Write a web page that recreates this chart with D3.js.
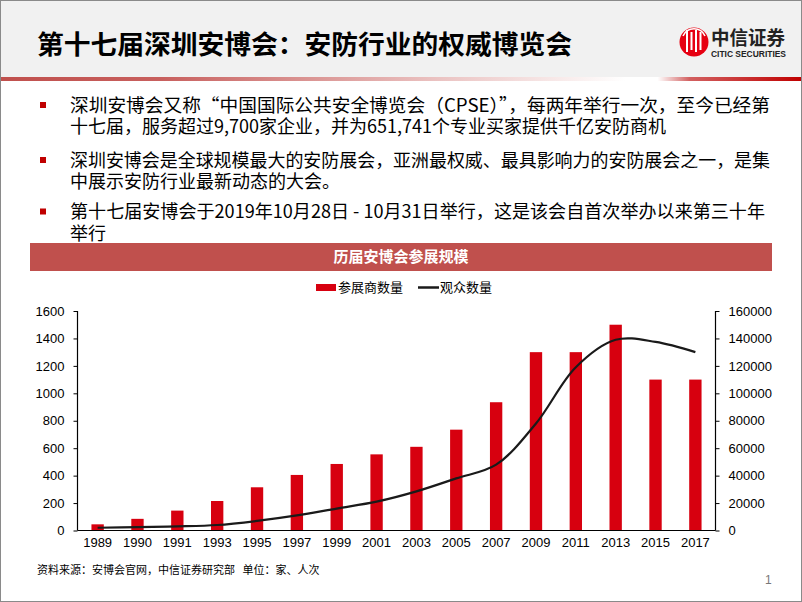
<!DOCTYPE html>
<html><head><meta charset="utf-8">
<script src="https://cdn.jsdelivr.net/npm/d3@7/dist/d3.min.js"></script>
<style>
html,body{margin:0;padding:0;background:#fff;}
svg{display:block;}
text{font-family:"Noto Sans CJK SC","Liberation Sans",sans-serif;}
.num{font-family:"Liberation Sans",Arial,sans-serif;}
</style></head>
<body>
<svg id="c" width="802" height="602"></svg>
<script>
const years = ["1989","1990","1991","1993","1995","1997","1999","2001","2003","2005","2007","2009","2011","2013","2015","2017"];
const exhibitors = [45,85,145,215,315,405,485,555,610,735,935,1300,1300,1500,1100,1100];
const visitors = [2000,2500,3000,4000,7000,11000,16000,21000,28500,38000,48000,78000,119000,139000,137500,130000];
const leftTicks = [0,200,400,600,800,1000,1200,1400,1600];
const rightTicks = [0,20000,40000,60000,80000,100000,120000,140000,160000];
const titleText = "第十七届深圳安博会：安防行业的权威博览会";
const chartTitle = "历届安博会参展规模";
const legendLabels = ["参展商数量","观众数量"];
const bullets = [
  ["深圳安博会又称“中国国际公共安全博览会（CPSE）”，每两年举行一次，至今已经第","十七届，服务超过9,700家企业，并为651,741个专业买家提供千亿安防商机"],
  ["深圳安博会是全球规模最大的安防展会，亚洲最权威、最具影响力的安防展会之一，是集","中展示安防行业最新动态的大会。"],
  ["第十七届安博会于2019年10月28日 - 10月31日举行，这是该会自首次举办以来第三十年","举行"]
];
const sourceText = "资料来源：安博会官网，中信证券研究部   单位：家、人次";

const svg = d3.select("#c");
const defs = svg.append("defs");
const g1 = defs.append("linearGradient").attr("id","hl").attr("x1","0").attr("x2","1").attr("y1","0").attr("y2","0");
[[0,"#c0504d"],[0.2,"#c8605e"],[0.55,"#ebc4c3"],[0.78,"#ffffff"],[0.82,"#ffffff"],[0.86,"#d26060"],[1,"#c00000"]].forEach(s=>g1.append("stop").attr("offset",s[0]).attr("stop-color",s[1]));

// header
svg.append("rect").attr("x",0).attr("y",0).attr("width",802).attr("height",78).attr("fill","#f1f1f1");
svg.append("rect").attr("x",0).attr("y",77).attr("width",802).attr("height",4).attr("fill","url(#hl)");
svg.append("text").attr("x",37).attr("y",54).attr("font-size",26).attr("font-weight","bold").attr("fill","#000")
  .attr("textLength",535).attr("lengthAdjust","spacingAndGlyphs").text(titleText);

// logo
const lg = svg.append("g");
lg.append("circle").attr("cx",694).attr("cy",42).attr("r",14.5).attr("fill","#e60012");
[-8,-3.5,1,5.5].forEach((dx,i)=>lg.append("rect").attr("x",694+dx).attr("y",30+(i%2?2:0)).attr("width",2).attr("height",22-(i%2?4:0)).attr("fill","#fff"));
lg.append("path").attr("d","M683,36 A12,12 0 0 1 705,36").attr("fill","none").attr("stroke","#fff").attr("stroke-width",1.5);
lg.append("text").attr("x",711).attr("y",45).attr("font-size",19).attr("font-weight","bold").attr("fill","#222")
  .attr("font-family","'Noto Serif CJK SC','Noto Sans CJK SC',serif").attr("textLength",74).attr("lengthAdjust","spacingAndGlyphs").text("中信证券");
lg.append("text").attr("class","num").attr("x",711).attr("y",57).attr("font-size",9).attr("font-weight","bold").attr("fill","#222")
  .attr("textLength",75).attr("lengthAdjust","spacingAndGlyphs").text("CITIC SECURITIES");

// bullets
const bl = [[111.5,133],[166.5,188],[218,239.5]];
bullets.forEach((b,i)=>{
  svg.append("rect").attr("x",40).attr("y",bl[i][0]-9.5).attr("width",6).attr("height",6).attr("fill","#c00000");
  const t1 = svg.append("text").attr("x",70).attr("y",bl[i][0]).attr("font-size",18).attr("fill","#000").text(b[0]);
  t1.attr("textLength", i===2?695:700).attr("lengthAdjust","spacingAndGlyphs");
  svg.append("text").attr("x",70).attr("y",bl[i][1]).attr("font-size",18).attr("fill","#000").text(b[1]);
});

// chart title bar
svg.append("rect").attr("x",30).attr("y",243).attr("width",742).attr("height",28).attr("fill","#c0504d");
svg.append("text").attr("x",401).attr("y",262).attr("text-anchor","middle").attr("font-size",15).attr("font-weight","bold").attr("fill","#fff").text(chartTitle);

// legend
svg.append("rect").attr("x",316).attr("y",284).attr("width",20).attr("height",7).attr("fill","#d7000f");
svg.append("text").attr("x",338).attr("y",292).attr("font-size",13).attr("fill","#000").text(legendLabels[0]);
svg.append("line").attr("x1",418).attr("x2",439).attr("y1",287.5).attr("y2",287.5).attr("stroke","#1a1a1a").attr("stroke-width",2.5);
svg.append("text").attr("x",440).attr("y",292).attr("font-size",13).attr("fill","#000").text(legendLabels[1]);

// scales
const L=77.5, R=715.5, T=311, B=530.5;
const x = d3.scaleBand().domain(years).range([L,R]).paddingInner(0.69).paddingOuter(0.35);
const yL = d3.scaleLinear().domain([0,1600]).range([B,T]);
const yR = d3.scaleLinear().domain([0,160000]).range([B,T]);

// bars
svg.append("g").selectAll("rect").data(years).join("rect")
  .attr("x",d=>x(d)).attr("width",x.bandwidth())
  .attr("y",(d,i)=>yL(exhibitors[i])).attr("height",(d,i)=>B-yL(exhibitors[i]))
  .attr("fill","#d7000f");

// line
const line = d3.line().x((d,i)=>x(years[i])+x.bandwidth()/2).y(d=>yR(d)).curve(d3.curveCatmullRom.alpha(0.5));
svg.append("path").datum(visitors).attr("d",line).attr("fill","none").attr("stroke","#1a1a1a").attr("stroke-width",2.2);

// axes
const axL = svg.append("g").attr("transform",`translate(${L},0)`).call(d3.axisLeft(yL).tickValues(leftTicks).tickSize(4).tickPadding(9).tickFormat(d3.format("d")));
const axR = svg.append("g").attr("transform",`translate(${R},0)`).call(d3.axisRight(yR).tickValues(rightTicks).tickSize(4).tickPadding(9).tickFormat(d3.format("d")));
const axB = svg.append("g").attr("transform",`translate(0,${B})`).call(d3.axisBottom(x).tickSize(0).tickPadding(7));
[axL,axR,axB].forEach(a=>{
  a.select(".domain").attr("stroke","#000").attr("stroke-width",1.2);
  a.selectAll(".tick line").attr("stroke","#000");
  a.selectAll("text").attr("class","num").attr("font-size",13).attr("fill","#000").style("font-family","'Liberation Sans',Arial,sans-serif");
});
axL.select(".domain").attr("d",`M0,${T}V${B}`);
axR.select(".domain").attr("d",`M0,${T}V${B}`);
axB.select(".domain").attr("d",`M${L},0H${R}`);

// footer
svg.append("text").attr("x",37).attr("y",574).attr("font-size",11).attr("fill","#000").attr("xml:space","preserve").style("white-space","pre").text(sourceText);
svg.append("text").attr("class","num").attr("x",765).attr("y",584).attr("font-size",12).attr("fill","#777").text("1");

// slide border
svg.append("rect").attr("x",0.5).attr("y",0.5).attr("width",801).attr("height",601).attr("fill","none").attr("stroke","#8a8a8a").attr("stroke-width",1);
</script>
</body></html>
